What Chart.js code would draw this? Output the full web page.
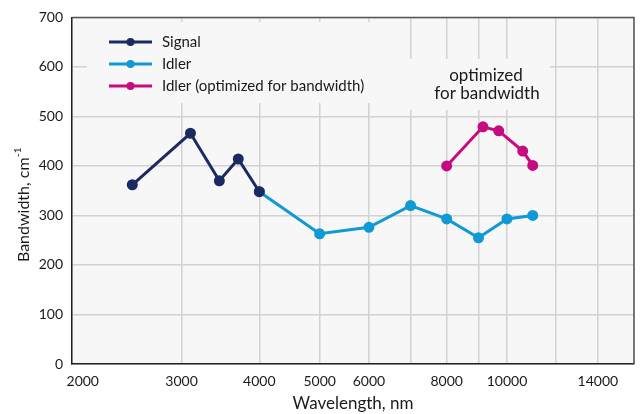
<!DOCTYPE html>
<html>
<head>
<meta charset="utf-8">
<script src="https://cdn.jsdelivr.net/npm/chart.js@4"></script>
<style>
html,body{margin:0;padding:0;background:#fff;}
#wrap{width:643px;height:414px;}
</style>
</head>
<body>
<div id="wrap"><canvas id="c" width="643" height="414"></canvas></div>
<script>
// ---- data ----
const signalX = [2500, 3100, 3450, 3700, 4000];
const signalY = [362, 466, 370, 414, 348];
const idlerX = [4000, 5000, 6000, 7000, 8000, 9000, 10000, 11000];
const idlerY = [348, 263, 276, 320, 293, 255, 293, 300];
const optX = [8000, 9150, 9700, 10600, 11000];
const optY = [400, 479, 471, 430, 401];
const xGridValues = [2000, 3000, 4000, 5000, 6000, 7000, 8000, 9000, 10000, 12000, 14000, 16000];
const xTickLabels = [2000, 3000, 4000, 5000, 6000, 8000, 10000, 14000];
const yTicks = [0, 100, 200, 300, 400, 500, 600, 700];
const seriesNames = ['Signal', 'Idler', 'Idler (optimized for bandwidth)'];
const annotationLines = ['optimized', 'for bandwidth'];
const xTitle = 'Wavelength, nm';
const yTitle = 'Bandwidth, cm';
const yTitleSup = '-1';

const colors = ['#1c2a62', '#0f99d5', '#c60b80'];
const FONT = 'Lato, "Open Sans", sans-serif';

function pts(xs, ys){ return xs.map((x,i)=>({x:x, y:ys[i]})); }

const decor = {
  id:'decor',
  beforeDraw(chart){
    const {ctx, chartArea:a} = chart;
    ctx.save();
    ctx.fillStyle = '#f7f7f7';
    ctx.fillRect(a.left, a.top, a.right-a.left, a.bottom-a.top);
    ctx.restore();
  },
  beforeDatasetsDraw(chart){
    const {ctx} = chart;
    ctx.save();
    ctx.fillStyle = '#f7f7f7';
    ctx.fillRect(87, 22, 292, 81);
    ctx.fillRect(378, 59, 172, 51);
    ctx.restore();
  },
  afterDraw(chart){
    const {ctx, chartArea:a} = chart;
    ctx.save();
    // top/right frame
    ctx.strokeStyle = '#555';
    ctx.lineWidth = 1.5;
    ctx.beginPath();
    ctx.moveTo(a.left, a.top); ctx.lineTo(a.right, a.top); ctx.lineTo(a.right, a.bottom);
    ctx.stroke();
    // legend
    const ly = [42, 64, 86];
    seriesNames.forEach((n,i)=>{
      ctx.strokeStyle = colors[i];
      ctx.lineWidth = 3;
      ctx.beginPath(); ctx.moveTo(109, ly[i]); ctx.lineTo(152, ly[i]); ctx.stroke();
      ctx.fillStyle = colors[i];
      ctx.beginPath(); ctx.arc(130.5, ly[i], 4, 0, Math.PI*2); ctx.fill();
      ctx.fillStyle = '#1a1a1a';
      ctx.font = '15px ' + FONT;
      ctx.textAlign = 'left'; ctx.textBaseline = 'middle';
      ctx.fillText(n, 162, ly[i]+0.5);
    });
    // annotation
    ctx.font = '17px ' + FONT;
    ctx.textAlign = 'center';
    ctx.fillStyle = '#1a1a1a';
    ctx.fillText(annotationLines[0], 486, 76);
    ctx.fillText(annotationLines[1], 487, 94);
    // y title
    ctx.save();
    ctx.translate(24, 205);
    ctx.rotate(-Math.PI/2);
    ctx.font = '16px ' + FONT;
    const w1 = ctx.measureText(yTitle).width;
    ctx.font = '10px ' + FONT;
    const w2 = ctx.measureText(yTitleSup).width;
    const start = -(w1+w2)/2;
    ctx.textAlign = 'left';
    ctx.font = '16px ' + FONT;
    ctx.fillText(yTitle, start, 0);
    ctx.font = '10px ' + FONT;
    ctx.fillText(yTitleSup, start + w1 + 0.5, -6);
    ctx.restore();
    ctx.restore();
  }
};

new Chart(document.getElementById('c'), {
  type: 'line',
  data: {
    datasets: [
      {label: seriesNames[0], data: pts(signalX, signalY), borderColor: colors[0], backgroundColor: colors[0], borderWidth: 3, pointRadius: 4, pointHoverRadius: 4, order: 0},
      {label: seriesNames[1], data: pts(idlerX, idlerY), borderColor: colors[1], backgroundColor: colors[1], borderWidth: 3, pointRadius: 4, pointHoverRadius: 4, order: 1},
      {label: seriesNames[2], data: pts(optX, optY), borderColor: colors[2], backgroundColor: colors[2], borderWidth: 3, pointRadius: 4, pointHoverRadius: 4, order: 2}
    ]
  },
  options: {
    responsive: false,
    animation: false,
    devicePixelRatio: 1,
    layout: {padding: {top: 14, right: 8, left: 0, bottom: 0}},
    plugins: {legend: {display: false}, tooltip: {enabled: false}},
    elements: {line: {tension: 0}},
    scales: {
      x: {
        type: 'logarithmic',
        min: 2000, max: 16000,
        afterBuildTicks(s){ s.ticks = xGridValues.map(v=>({value:v})); },
        afterFit(s){ s.height = 50; },
        grid: {color: '#d2d2d2', lineWidth: 1.5, drawTicks: false},
        border: {display: true, color: '#222', width: 1.5},
        ticks: {
          autoSkip: false, maxRotation: 0, padding: 9,
          color: '#1a1a1a', font: {family: FONT, size: 14},
          callback(v){ return xTickLabels.includes(v) ? (v === 2000 ? '      2000' : String(v)) : ''; }
        },
        title: {display: true, text: xTitle, color: '#1a1a1a', font: {family: FONT, size: 17}, padding: {top: 2, bottom: 0}}
      },
      y: {
        min: 0, max: 700,
        afterBuildTicks(s){ s.ticks = yTicks.map(v=>({value:v})); },
        afterFit(s){ s.width = 72; },
        grid: {color: '#d2d2d2', lineWidth: 1.5, drawTicks: false},
        border: {display: true, color: '#222', width: 1.5},
        ticks: {padding: 9, color: '#1a1a1a', font: {family: FONT, size: 14}}
      }
    }
  },
  plugins: [decor]
});
</script>
</body>
</html>
